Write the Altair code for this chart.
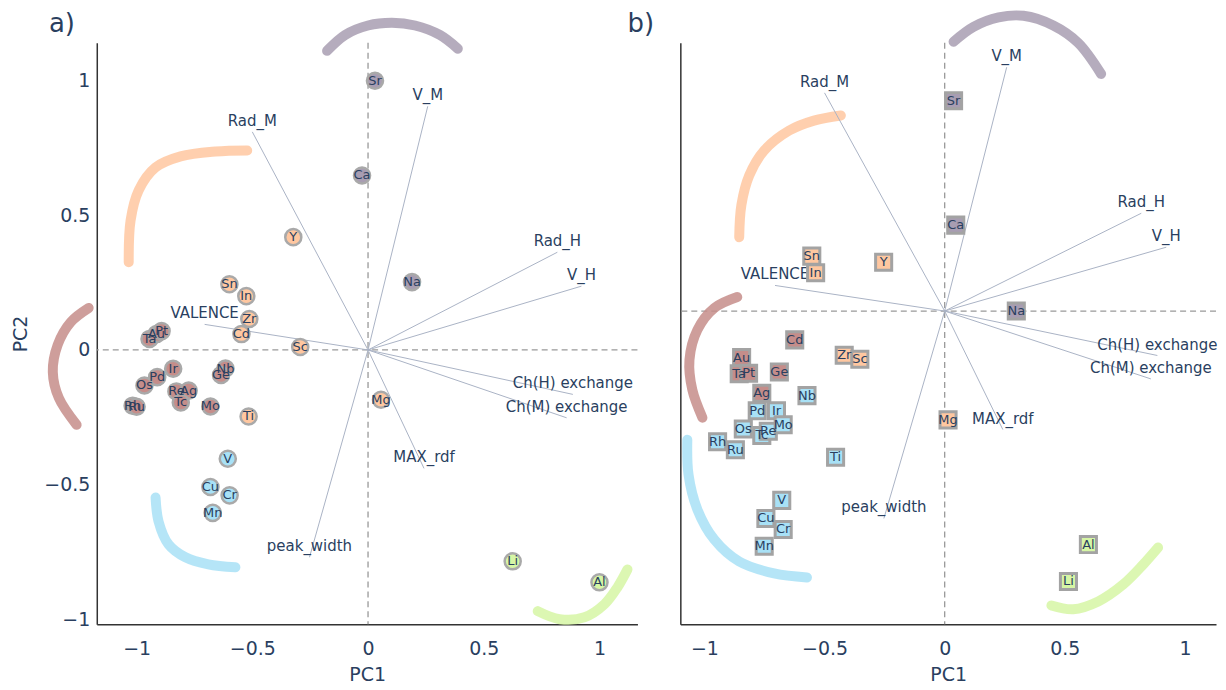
import altair as alt
import pandas as pd

FONT = "DejaVu Sans"
TXT = "#2a3f5f"

group_names = ["c1", "c2", "c3", "c4", "c5"]
group_colors = ["#a89db2", "#ffc7a0", "#c58d8a", "#a8e1f6", "#d6f6a5"]

# ---------------- panel a (circles) ----------------
elem_a = ["Sr", "Ca", "Na", "Y", "Sn", "In", "Zr", "Cd", "Sc", "Ti", "Mg",
          "Ta", "Au", "Pt", "Ir", "Pd", "Os", "Re", "Ag", "Tc", "Mo", "Nb", "Ge", "Rh", "Ru",
          "V", "Cu", "Cr", "Mn", "Li", "Al"]
pc1_a = [0.03, -0.026, 0.19, -0.323, -0.599, -0.526, -0.513, -0.547, -0.293, -0.516, 0.056,
         -0.944, -0.914, -0.892, -0.842, -0.911, -0.966, -0.828, -0.775, -0.809, -0.681, -0.616, -0.635, -1.017, -1.0,
         -0.606, -0.681, -0.598, -0.671, 0.625, 1.0]
pc2_a = [1.0, 0.648, 0.252, 0.419, 0.244, 0.2, 0.115, 0.059, 0.011, -0.247, -0.185,
         0.041, 0.059, 0.07, -0.07, -0.101, -0.132, -0.154, -0.151, -0.195, -0.21, -0.069, -0.093, -0.207, -0.211,
         -0.404, -0.509, -0.54, -0.605, -0.785, -0.863]
grp_a = ["c1", "c1", "c1", "c2", "c2", "c2", "c2", "c2", "c2", "c2", "c2",
         "c3", "c3", "c3", "c3", "c3", "c3", "c3", "c3", "c3", "c3", "c3", "c3", "c3", "c3",
         "c4", "c4", "c4", "c4", "c5", "c5"]

# ---------------- panel b (squares) ----------------
elem_b = ["Sr", "Ca", "Na", "Sn", "In", "Y", "Zr", "Sc", "Mg",
          "Cd", "Au", "Ta", "Pt", "Ge", "Ag",
          "Nb", "Pd", "Ir", "Os", "Tc", "Re", "Mo", "Rh", "Ru", "Ti", "V", "Cu", "Cr", "Mn",
          "Al", "Li"]
pc1_b = [0.037, 0.046, 0.298, -0.553, -0.537, -0.254, -0.418, -0.353, 0.014,
         -0.624, -0.845, -0.855, -0.816, -0.688, -0.761,
         -0.573, -0.78, -0.7, -0.838, -0.761, -0.734, -0.672, -0.945, -0.871, -0.454, -0.678, -0.744, -0.672, -0.751,
         0.598, 0.515]
pc2_b = [0.781, 0.319, 0.0, 0.204, 0.142, 0.181, -0.164, -0.179, -0.404,
         -0.107, -0.173, -0.233, -0.231, -0.226, -0.305,
         -0.314, -0.37, -0.37, -0.438, -0.462, -0.446, -0.422, -0.485, -0.515, -0.543, -0.703, -0.77, -0.811, -0.873,
         -0.867, -1.004]
grp_b = ["c1", "c1", "c1", "c2", "c2", "c2", "c2", "c2", "c2",
         "c3", "c3", "c3", "c3", "c3", "c3",
         "c4", "c4", "c4", "c4", "c4", "c4", "c4", "c4", "c4", "c4", "c4", "c4", "c4", "c4",
         "c5", "c5"]

# ---------------- loadings (shared) ----------------
features = ["Rad_M", "V_M", "Rad_H", "V_H", "Ch(H) exchange", "Ch(M) exchange",
            "MAX_rdf", "peak_width", "VALENCE"]
load_pc1 = [-0.50, 0.258, 0.818, 0.922, 0.885, 0.858, 0.242, -0.253, -0.706]
load_pc2 = [0.81, 0.905, 0.363, 0.237, -0.165, -0.252, -0.44, -0.77, 0.095]

# ---------------- decorative cluster arcs ----------------
arc_a_c1_x = [-0.177, -0.099, 0.0, 0.103, 0.203, 0.31, 0.388]
arc_a_c1_y = [1.111, 1.17, 1.205, 1.215, 1.205, 1.17, 1.119]
arc_a_c2_x = [-1.034, -1.026, -0.991, -0.918, -0.81, -0.659, -0.522]
arc_a_c2_y = [0.326, 0.481, 0.593, 0.678, 0.719, 0.737, 0.741]
arc_a_c3_x = [-1.207, -1.284, -1.341, -1.362, -1.336, -1.259]
arc_a_c3_y = [0.156, 0.104, 0.019, -0.081, -0.178, -0.278]
arc_a_c4_x = [-0.918, -0.905, -0.862, -0.789, -0.69, -0.573]
arc_a_c4_y = [-0.548, -0.637, -0.722, -0.77, -0.796, -0.807]
arc_a_c5_x = [0.733, 0.828, 0.935, 1.022, 1.078, 1.121]
arc_a_c5_y = [-0.97, -1.0, -0.993, -0.944, -0.881, -0.815]

arc_b_c1_x = [0.037, 0.12, 0.224, 0.328, 0.452, 0.556, 0.651]
arc_b_c1_y = [1.0, 1.055, 1.09, 1.096, 1.06, 0.995, 0.88]
arc_b_c2_x = [-0.855, -0.846, -0.813, -0.751, -0.647, -0.544, -0.432]
arc_b_c2_y = [0.274, 0.393, 0.504, 0.596, 0.67, 0.707, 0.726]
arc_b_c3_x = [-0.863, -0.959, -1.029, -1.062, -1.05, -1.008]
arc_b_c3_y = [0.052, 0.011, -0.07, -0.181, -0.293, -0.396]
arc_b_c4_x = [-1.071, -1.066, -1.029, -0.959, -0.855, -0.71, -0.573]
arc_b_c4_y = [-0.478, -0.607, -0.737, -0.848, -0.93, -0.974, -0.989]
arc_b_c5_x = [0.444, 0.535, 0.639, 0.743, 0.826, 0.888]
arc_b_c5_y = [-1.093, -1.107, -1.078, -1.015, -0.941, -0.878]


def arcs_frame(arcs):
    rows = []
    for g, xs, ys in arcs:
        for i, (x, y) in enumerate(zip(xs, ys)):
            rows.append({"grp": g, "x": x, "y": y, "i": i})
    return pd.DataFrame(rows)


arcs_a = arcs_frame([("c1", arc_a_c1_x, arc_a_c1_y), ("c2", arc_a_c2_x, arc_a_c2_y),
                     ("c3", arc_a_c3_x, arc_a_c3_y), ("c4", arc_a_c4_x, arc_a_c4_y),
                     ("c5", arc_a_c5_x, arc_a_c5_y)])
arcs_b = arcs_frame([("c1", arc_b_c1_x, arc_b_c1_y), ("c2", arc_b_c2_x, arc_b_c2_y),
                     ("c3", arc_b_c3_x, arc_b_c3_y), ("c4", arc_b_c4_x, arc_b_c4_y),
                     ("c5", arc_b_c5_x, arc_b_c5_y)])

pts_a = pd.DataFrame({"el": elem_a, "x": pc1_a, "y": pc2_a, "grp": grp_a})
pts_b = pd.DataFrame({"el": elem_b, "x": pc1_b, "y": pc2_b, "grp": grp_b})
loads = pd.DataFrame({"feat": features, "x": load_pc1, "y": load_pc2})
loads["x0"] = loads["x"] * 0
loads["y0"] = loads["y"] * 0
zero = pd.DataFrame({"v": [0.0]})

cscale = alt.Scale(domain=group_names, range=group_colors)
tick_vals = [-1, -0.5, 0, 0.5, 1]


def panel(pts, arcs, xdom, ydom, w, h, shape, size, show_y, letter, letter_dx):
    xs = alt.Scale(domain=xdom, nice=False, zero=False)
    ys = alt.Scale(domain=ydom, nice=False, zero=False)
    xaxis = alt.Axis(title="PC1", values=tick_vals, format="~g", grid=False, ticks=False,
                     tickSize=0, labelPadding=15, labelFlush=False, domainColor="#333",
                     domainWidth=1.5, labelFontSize=19, titleFontSize=19, labelFont=FONT,
                     titleFont=FONT, labelColor=TXT, titleColor=TXT, titleFontWeight="normal",
                     titlePadding=7)
    if show_y:
        yaxis = alt.Axis(title="PC2", values=tick_vals, format="~g", grid=False, ticks=False,
                         tickSize=0, labelPadding=7, labelFlush=False, domainColor="#333",
                         domainWidth=1.5, labelFontSize=19, titleFontSize=19, labelFont=FONT,
                         titleFont=FONT, labelColor=TXT, titleColor=TXT,
                         titleFontWeight="normal", titlePadding=13)
    else:
        yaxis = alt.Axis(title=None, labels=False, ticks=False, grid=False, domainColor="#333",
                         domainWidth=1.5)

    X = lambda f: alt.X(f, type="quantitative", scale=xs, axis=xaxis)
    Y = lambda f: alt.Y(f, type="quantitative", scale=ys, axis=yaxis)

    vline = alt.Chart(zero).mark_rule(color="#999", strokeDash=[6, 4], strokeWidth=1.3).encode(x=X("v"))
    hline = alt.Chart(zero).mark_rule(color="#999", strokeDash=[6, 4], strokeWidth=1.3).encode(y=Y("v"))

    arc_layer = alt.Chart(arcs).mark_line(strokeWidth=10, opacity=0.85, strokeCap="round",
                                          interpolate="catmull-rom").encode(
        x=X("x"), y=Y("y"), color=alt.Color("grp:N", scale=cscale, legend=None),
        detail="grp:N", order="i:Q")

    load_lines = alt.Chart(loads).mark_rule(color="#aab3c5", strokeWidth=1).encode(
        x=X("x0"), y=Y("y0"), x2="x", y2="y")
    load_text = alt.Chart(loads).mark_text(dy=-11, fontSize=15, font=FONT, color=TXT).encode(
        x=X("x"), y=Y("y"), text="feat:N")

    if shape == "circle":
        marks = alt.Chart(pts).mark_circle(size=size, opacity=1, stroke="#a9a9a9", strokeWidth=2.5)
    else:
        marks = alt.Chart(pts).mark_square(size=size, opacity=1, stroke="#a3a3a3", strokeWidth=3)
    marks = marks.encode(x=X("x"), y=Y("y"), fill=alt.Fill("grp:N", scale=cscale, legend=None))
    labels = alt.Chart(pts).mark_text(fontSize=13, font=FONT, color=TXT, baseline="middle").encode(
        x=X("x"), y=Y("y"), text="el:N")

    tag = alt.Chart(pd.DataFrame({"t": [letter]})).mark_text(
        align="left", baseline="alphabetic", fontSize=26, font=FONT, color=TXT).encode(
        x=alt.value(letter_dx), y=alt.value(-11), text="t:N")

    return alt.layer(vline, hline, arc_layer, load_lines, load_text, marks, labels, tag).properties(
        width=w, height=h)


left = panel(pts_a, arcs_a, [-1.172, 1.164], [-1.019, 1.141], 542, 583, "circle", 260, True, "a)", -48)
right = panel(pts_b, arcs_b, [-1.10, 1.129], [-1.163, 0.996], 537, 583, "square", 260, False, "b)", -53)

chart = alt.hconcat(left, right, spacing=43, bounds="flush").configure_view(stroke=None).properties(
    padding={"left": 3, "top": -14, "right": 0, "bottom": 0})

chart.save("out.html", embed_options={"renderer": "svg", "actions": False})
